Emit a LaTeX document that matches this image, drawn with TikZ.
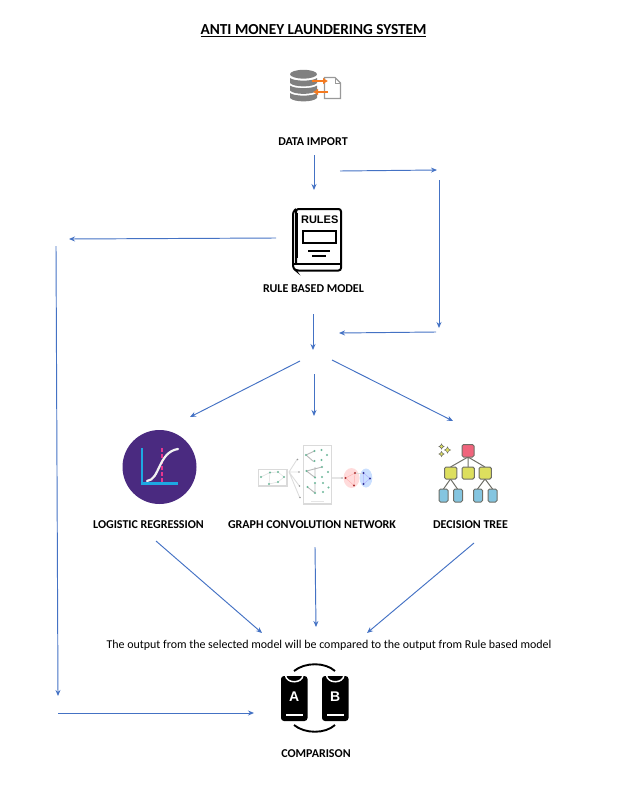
\documentclass[tikz,border=0pt]{standalone}
\usepackage{fontspec}
\setmainfont{Carlito}
\newfontfamily\iconfont{Liberation Sans}
\usetikzlibrary{arrows.meta}
\definecolor{flow}{HTML}{4472C4}
\definecolor{dbgray}{HTML}{808080}
\definecolor{arrowor}{HTML}{F47A20}
\definecolor{lrpurple}{HTML}{4A2A80}
\definecolor{lrblue}{HTML}{1DA8E2}
\definecolor{lrpink}{HTML}{E8358F}
\definecolor{gcngreen}{HTML}{6DB89A}
\definecolor{gcnedge}{HTML}{DDDDDD}
\definecolor{gcnbox}{HTML}{DADADA}
\definecolor{treered}{HTML}{F0647C}
\definecolor{treeyel}{HTML}{DDDF5E}
\definecolor{treeblu}{HTML}{84C5E0}
\definecolor{treeline}{HTML}{6E6E66}
\tikzset{
  x=1pt,y=-1pt,
  flowarrow/.style={draw=flow,line width=0.95pt,-{Stealth[length=6pt,width=5pt]}},
  boldlabel/.style={inner sep=0pt,font=\fontsize{12}{14}\selectfont\bfseries},
  titlelabel/.style={inner sep=0pt,font=\fontsize{15.3}{18}\selectfont\bfseries},
  notelabel/.style={inner sep=0pt,font=\fontsize{11.95}{14}\selectfont},
  disk/.style={fill=dbgray,draw=none},
  gcnnode/.style={fill=gcngreen,draw=none},
  gcnline/.style={draw=gcnedge,line width=0.5pt},
  treebox/.style={draw=treeline,line width=1pt,rounded corners=1.5pt},
  treeedge/.style={draw=treeline,line width=1pt},
}
\begin{document}
\begin{tikzpicture}
\useasboundingbox (0,0) rectangle (626,803);
% ---- texts
\node[titlelabel] (title) at (313.5,30.5) {\underline{ANTI MONEY LAUNDERING SYSTEM}};
\node[boldlabel] (dataimport) at (313,141.8) {DATA IMPORT};
\node[boldlabel] (rulebased) at (313.5,288.8) {RULE BASED MODEL};
\node[boldlabel] (logreg) at (148.5,524.8) {LOGISTIC REGRESSION};
\node[boldlabel] (gcn) at (312,524.8) {GRAPH CONVOLUTION NETWORK};
\node[boldlabel] (dtree) at (470.5,524.8) {DECISION TREE};
\node[notelabel] (note) at (329,645.8) {The output from the selected model will be compared to the output from Rule based model};
\node[boldlabel] (comparison) at (316,753.8) {COMPARISON};
% ---- database icon
\fill[disk] (303.5,74.2) ellipse[x radius=13.5,y radius=4.4];
\foreach \yy in {78,85.5,93} {
  \fill[disk] (290,\yy) .. controls (294,\yy+3.5) and (313,\yy+3.5) .. (317,\yy) -- (317,\yy+5) .. controls (313,\yy+9.5) and (294,\yy+9.5) .. (290,\yy+5) -- cycle;
}
\filldraw[fill=white,draw=dbgray!80,line width=1.1pt] (324.5,77.5) -- (335,77.5) -- (340.5,83) -- (340.5,98.5) -- (324.5,98.5) -- cycle;
\draw[dbgray!80,line width=0.9pt] (335,77.5) -- (335,83) -- (340.5,83);
\draw[arrowor,line width=2.4pt,-{Latex[length=5pt,width=7pt]}] (312,81) -- (328,81);
\draw[arrowor,line width=2.4pt,-{Latex[length=5pt,width=7pt]}] (328,92) -- (313,92);
% ---- rules book icon
\draw[black,line width=2pt,rounded corners=2.5pt] (296,264) -- (296,209) -- (341,209) -- (341,270.5) -- (296,270.5) -- (293,268) -- (293,212) -- (296,209);
\draw[black,line width=1.8pt] (293.5,264) -- (341,264);
\draw[black,line width=1.6pt] (297,213) -- (297,258);
\node[inner sep=0pt,font=\iconfont\fontsize{11}{13}\selectfont\bfseries] (rulesword) at (319.7,220) {RULES};
\draw[black,line width=1.7pt] (303,231) rectangle (336,243);
\draw[black,line width=1.5pt] (308,251) -- (330,251) (312,256) -- (326,256);
% ---- logistic regression icon
\fill[lrpurple] (159.5,467) circle[radius=37];
\draw[lrpink,line width=2.6pt,dash pattern=on 4pt off 2pt] (162,448) -- (162,483);
\draw[white!90!gray,line width=2.2pt,line cap=round] (147,481) .. controls (160,480) and (158,452) .. (178,449);
\draw[lrblue,line width=2.6pt] (142,448) -- (142,483.5) -- (178,483.5);
% ---- GCN icon
\draw[gcnbox,line width=1.2pt,fill=white] (258.5,469.5) rectangle (287,486);
\draw[gcnbox,line width=1.2pt,fill=white] (303.5,445.5) rectangle (331.5,504);
\draw[gcnline] (261,477) -- (270,472.5) -- (278,472) -- (284,477) -- (278,482) -- (269,484) (270,472.5) -- (269,484);
\foreach \px/\py in {261/477,270/472.5,278/472,284/477,278/482,269/484} {
  \fill[gcnnode] (\px,\py) circle[radius=1.1];
}
\draw[gcnedge,line width=0.9pt] (289,472) -- (297,459.5) (289,472) -- (299,472) (289,472) -- (299,485.5) (289,472) -- (299.5,497);
\foreach \px/\py in {297.5/459.5,299/472,299.5/486,300/497.5} { \fill[gray!80] (\px,\py) circle[radius=0.9]; }
\draw[gray!55,line width=0.9pt] (314.5,451) -- (306,455) -- (313.5,461.5);
\draw[gray!55,line width=0.9pt] (322,467) -- (306.5,471) -- (315,477.5) -- (315,467);
\draw[gray!55,line width=0.9pt] (307.5,487) -- (315,493) -- (315,483);
\foreach \px/\py in {314.5/451,306/455,314.5/461,321.5/450,327/455,321.5/460,306.5/471,322/467,315/477.5,328/472,322/477,307.5/487,315/483,315/493,323/483,328.5/487.5,323/492} {
  \fill[gcnnode] (\px,\py) circle[radius=1.1];
}
\draw[gcnbox!70,line width=0.6pt] (311,501.5) -- (324,501.5);
\draw[gcnbox!70,line width=1.4pt] (332,478) -- (341,478);
\fill[gray!80] (342,478) circle[radius=0.9];
\fill[red!40!white,opacity=0.35] (351.5,478) ellipse[x radius=8,y radius=10];
\fill[blue!60!cyan!60!white,opacity=0.35] (366,478) ellipse[x radius=6.3,y radius=9.5];
\draw[red!30!white,line width=0.5pt] (345.5,478) -- (355,473) -- (354,485.5) -- cycle;
\draw[blue!30!white,line width=0.5pt] (363.5,473) -- (370,478.5) -- (363.5,484) -- cycle;
\draw[gcnedge,line width=0.5pt] (355,473) -- (363.5,473);
\foreach \px/\py in {345.5/478,355/473,354/485.5} { \fill[red!60!black!80] (\px,\py) circle[radius=1.1]; }
\foreach \px/\py in {363.5/473,370/478.5,363.5/484} { \fill[blue!50!black!80] (\px,\py) circle[radius=1.1]; }
% ---- decision tree icon
\draw[treeedge] (468,457) -- (450.5,467) (468,457) -- (468,467) (468,457) -- (485,467);
\draw[treeedge] (450.5,479) -- (443.5,489) (450.5,479) -- (457.5,489);
\draw[treeedge] (485,479) -- (477.5,489) (485,479) -- (492.5,489);
\draw[treebox,fill=treered] (462,444.5) rectangle (474,457);
\foreach \bx in {444.5,462,479} { \draw[treebox,fill=treeyel] (\bx,467) rectangle (\bx+12.3,479); }
\foreach \bx in {439,453.5,473.5,488} { \draw[treebox,fill=treeblu] (\bx,489) rectangle (\bx+9,502); }
\foreach \sx/\sy/\sr in {441.5/446.5/2.6,447.5/450/3,441.5/454/2.6} {
  \filldraw[fill=treeyel,draw=treeline,line width=0.5pt] (\sx,\sy-\sr) -- (\sx+0.35*\sr,\sy-0.35*\sr) -- (\sx+\sr,\sy) -- (\sx+0.35*\sr,\sy+0.35*\sr) -- (\sx,\sy+\sr) -- (\sx-0.35*\sr,\sy+0.35*\sr) -- (\sx-\sr,\sy) -- (\sx-0.35*\sr,\sy-0.35*\sr) -- cycle;
}
% ---- A/B comparison icon
\foreach \bx/\bl in {281/A,322/B} {
  \fill[black,rounded corners=3pt] (\bx,676) rectangle (\bx+26.5,721);
  \draw[white,line width=1.5pt] (\bx+4.5,675) .. controls (\bx+5,684) and (\bx+21.5,684) .. (\bx+22,675);
  \draw[white,line width=1.7pt] (\bx+5,715) -- (\bx+21.5,715);
  \node[inner sep=0pt,text=white,font=\iconfont\fontsize{14}{16}\selectfont\bfseries] at (\bx+13.3,696.5) {\bl};
}
\draw[black,line width=1.9pt] (294,671) .. controls (305,662) and (325,662) .. (335,671);
\draw[black,line width=1.9pt] (294,725) .. controls (305,734) and (325,734) .. (335,725);
% ---- connector ends
\coordinate (a1) at (314,155); \coordinate (a2) at (314,190);
\coordinate (b1) at (340,171); \coordinate (b2) at (437,170);
\coordinate (c1) at (439,180); \coordinate (c2) at (439,328);
\coordinate (d1) at (436,332); \coordinate (d2) at (339,333);
\coordinate (e1) at (276,238); \coordinate (e2) at (69,239);
\coordinate (f1) at (56,246);  \coordinate (f2) at (58,696);
\coordinate (g1) at (313,314); \coordinate (g2) at (313,350);
\coordinate (h1) at (300,361); \coordinate (h2) at (190,417);
\coordinate (i1) at (314,374); \coordinate (i2) at (314,416);
\coordinate (j1) at (332,360); \coordinate (j2) at (453,421);
\coordinate (k1) at (156,541); \coordinate (k2) at (262,633);
\coordinate (l1) at (315,547); \coordinate (l2) at (316,627);
\coordinate (m1) at (474,543); \coordinate (m2) at (367,633);
\coordinate (n1) at (58,713);  \coordinate (n2) at (254,713);
\foreach \s/\t in {a1/a2,b1/b2,c1/c2,d1/d2,e1/e2,f1/f2,g1/g2,h1/h2,i1/i2,j1/j2,k1/k2,l1/l2,m1/m2,n1/n2} {
  \draw[flowarrow] (\s) -- (\t);
}
\end{tikzpicture}
\end{document}
